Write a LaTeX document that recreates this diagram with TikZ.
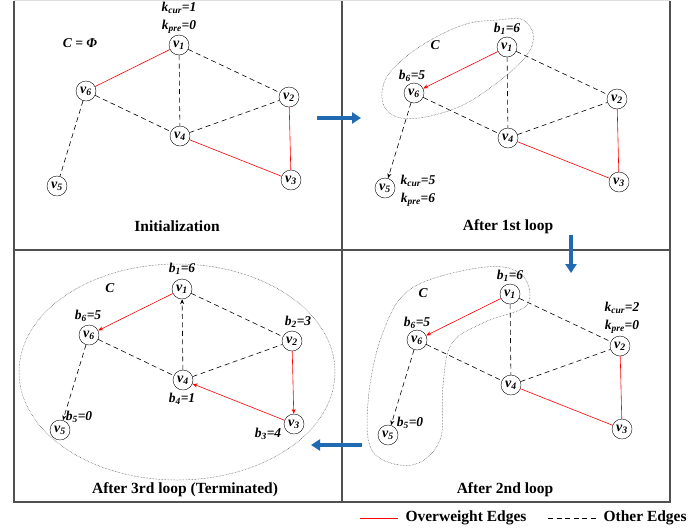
\documentclass[tikz,border=0pt]{standalone}
\usepackage{fontspec}
\setmainfont{Liberation Serif}
\usetikzlibrary{arrows.meta}

\definecolor{flowblue}{RGB}{31,106,176}
\definecolor{framegray}{RGB}{80,80,80}

\begin{document}
\begin{tikzpicture}[
  x=1pt, y=-1pt,
  vtx/.style={circle, draw, thin, minimum size=20pt, inner sep=0pt, font=\bfseries\itshape\fontsize{14}{14}\selectfont},
  lbl/.style={font=\bfseries\itshape\fontsize{13.5}{14}\selectfont, inner sep=1pt},
  caption/.style={font=\bfseries\fontsize{15.5}{16}\selectfont},
  heavy/.style={draw=red, line width=0.6pt},
  other/.style={draw=black, line width=0.6pt, dash pattern=on 5pt off 3.5pt},
  tip/.style={-{Stealth[length=5pt,width=4pt]}},
  group/.style={draw=black!75, line width=0.5pt, densely dotted},
  flow/.style={draw=flowblue, line width=4.5pt, -{Triangle[length=9pt,width=11pt]}}
]
  \useasboundingbox (0,0) rectangle (692,531);

  % panel frame
  \draw[gray!25, line width=1pt] (14,0.5) -- (670,0.5);
  \draw[framegray, line width=1.2pt] (14,0.5) -- (14,502) -- (670,502) -- (670,0.5);
  \draw[framegray, line width=1.2pt] (342,0.5) -- (342,502);
  \draw[framegray, line width=1.2pt] (14,250) -- (670,250);

  % the same graph in each panel
  \foreach \p/\dx/\dy in {a/0/0, b/328/2, c/3/244, d/331/249} {
    \begin{scope}[shift={(\dx,\dy)}]
      \node[vtx] (\p1) at (179,45) {v\textsubscript{1}};
      \node[vtx] (\p2) at (289,97) {v\textsubscript{2}};
      \node[vtx] (\p3) at (291,180) {v\textsubscript{3}};
      \node[vtx] (\p4) at (180,136) {v\textsubscript{4}};
      \node[vtx] (\p5) at (57,186) {v\textsubscript{5}};
      \node[vtx] (\p6) at (86,91) {v\textsubscript{6}};
    \end{scope}
  }

  % Initialization
  \draw[heavy] (a1) -- (a6);
  \draw[heavy] (a4) -- (a3);
  \draw[heavy] (a2) -- (a3);
  \draw[other] (a1) -- (a4);
  \draw[other] (a1) -- (a2);
  \draw[other] (a6) -- (a4);
  \draw[other] (a6) -- (a5);
  \draw[other] (a4) -- (a2);
  \node[lbl] (akc) at (179,8) {k\textsubscript{cur}=1};
  \node[lbl] (akp) at (179,27) {k\textsubscript{pre}=0};
  \node[lbl] (aC) at (80,43) {C = Φ};
  \node[caption] (acap) at (177,226) {Initialization};

  % After 1st loop
  \draw[group] plot[smooth cycle, tension=0.7] coordinates {(498,20) (526,22) (530,50) (490,88) (445,112) (397,117) (382,92) (402,60) (455,28)};
  \draw[heavy, tip] (b1) -- (b6);
  \draw[heavy] (b4) -- (b3);
  \draw[heavy] (b2) -- (b3);
  \draw[other] (b1) -- (b4);
  \draw[other] (b1) -- (b2);
  \draw[other] (b6) -- (b4);
  \draw[other, tip] (b6) -- (b5);
  \draw[other] (b4) -- (b2);
  \node[lbl] (bb1) at (507,29) {b\textsubscript{1}=6};
  \node[lbl] (bb6) at (412,76) {b\textsubscript{6}=5};
  \node[lbl] (bC) at (435,45) {C};
  \node[lbl] (bkc) at (418,181) {k\textsubscript{cur}=5};
  \node[lbl] (bkp) at (418,200) {k\textsubscript{pre}=6};
  \node[caption] (bcap) at (508,227) {After 1st loop};

  % After 2nd loop
  \draw[group] plot[smooth cycle, tension=0.6] coordinates {(485,267) (522,275) (527,305) (485,322) (452,343) (443,385) (440,440) (412,465) (373,452) (368,402) (382,335) (412,288)};
  \draw[heavy, tip] (d1) -- (d6);
  \draw[heavy] (d4) -- (d3);
  \draw[heavy] (d2) -- (d3);
  \draw[other] (d1) -- (d4);
  \draw[other] (d1) -- (d2);
  \draw[other] (d6) -- (d4);
  \draw[other, tip] (d6) -- (d5);
  \draw[other] (d4) -- (d2);
  \node[lbl] (db1) at (510,276) {b\textsubscript{1}=6};
  \node[lbl] (db6) at (417,323) {b\textsubscript{6}=5};
  \node[lbl] (db5) at (410,423) {b\textsubscript{5}=0};
  \node[lbl] (dC) at (423,293) {C};
  \node[lbl] (dkc) at (622,308) {k\textsubscript{cur}=2};
  \node[lbl] (dkp) at (622,327) {k\textsubscript{pre}=0};
  \node[caption] (dcap) at (505,490) {After 2nd loop};

  % After 3rd loop
  \draw[group] (177,372) ellipse (158 and 108);
  \draw[heavy, tip] (c1) -- (c6);
  \draw[heavy, tip] (c2) -- (c3);
  \draw[heavy, tip] (c3) -- (c4);
  \draw[other, tip] (c4) -- (c1);
  \draw[other] (c1) -- (c2);
  \draw[other] (c6) -- (c4);
  \draw[other, tip] (c6) -- (c5);
  \draw[other] (c4) -- (c2);
  \node[lbl] (cb1) at (182,269) {b\textsubscript{1}=6};
  \node[lbl] (cb6) at (88,316) {b\textsubscript{6}=5};
  \node[lbl] (cb2) at (298,322) {b\textsubscript{2}=3};
  \node[lbl] (cb4) at (182,399) {b\textsubscript{4}=1};
  \node[lbl] (cb3) at (268,434) {b\textsubscript{3}=4};
  \node[lbl] (cb5) at (79,417) {b\textsubscript{5}=0};
  \node[lbl] (cC) at (110,288) {C};
  \node[caption] (ccap) at (185,490) {After 3rd loop (Terminated)};

  % flow between panels
  \coordinate (f1s) at (317,118);
  \coordinate (f1e) at (361,118);
  \coordinate (f2s) at (571,235);
  \coordinate (f2e) at (571,273);
  \coordinate (f3s) at (362,445);
  \coordinate (f3e) at (311,445);
  \draw[flow] (f1s) -- (f1e);
  \draw[flow] (f2s) -- (f2e);
  \draw[flow] (f3s) -- (f3e);

  % legend
  \coordinate (l1s) at (360,518);
  \coordinate (l1e) at (398,518);
  \coordinate (l2s) at (548,518);
  \coordinate (l2e) at (597,518);
  \draw[heavy] (l1s) -- (l1e);
  \node[caption, anchor=west] (lt1) at (402,518) {Overweight Edges};
  \draw[other] (l2s) -- (l2e);
  \node[caption, anchor=west] (lt2) at (600,518) {Other Edges};
\end{tikzpicture}
\end{document}
